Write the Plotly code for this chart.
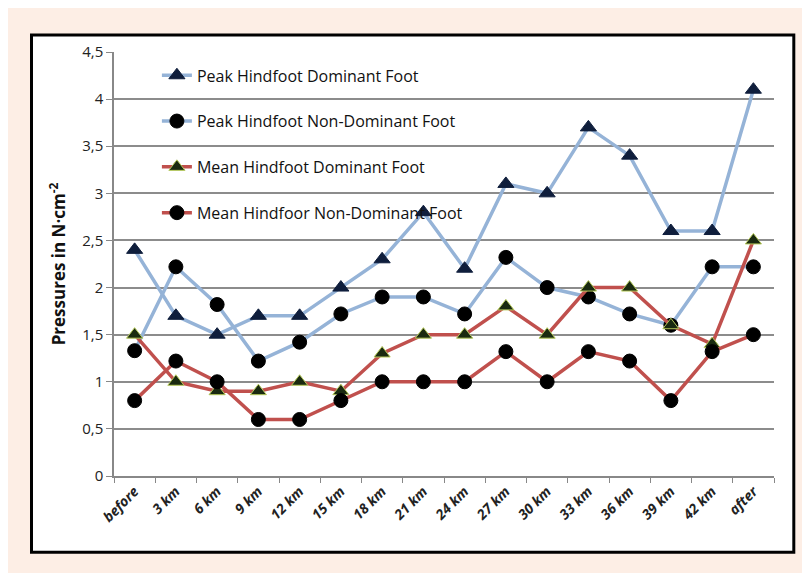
import plotly.graph_objects as go

categories = ['before', '3 km', '6 km', '9 km', '12 km', '15 km', '18 km', '21 km',
              '24 km', '27 km', '30 km', '33 km', '36 km', '39 km', '42 km', 'after']

peak_dominant = [2.4, 1.7, 1.5, 1.7, 1.7, 2.0, 2.3, 2.8, 2.2, 3.1, 3.0, 3.7, 3.4, 2.6, 2.6, 4.1]
peak_non_dominant = [1.33, 2.22, 1.82, 1.22, 1.42, 1.72, 1.9, 1.9, 1.72, 2.32, 2.0, 1.9, 1.72, 1.6, 2.22, 2.22]
mean_dominant = [1.5, 1.0, 0.9, 0.9, 1.0, 0.9, 1.3, 1.5, 1.5, 1.8, 1.5, 2.0, 2.0, 1.6, 1.4, 2.5]
mean_non_dominant = [0.8, 1.22, 1.0, 0.6, 0.6, 0.8, 1.0, 1.0, 1.0, 1.32, 1.0, 1.32, 1.22, 0.8, 1.32, 1.5]

y_ticks = [0, 0.5, 1, 1.5, 2, 2.5, 3, 3.5, 4, 4.5]
y_tick_labels = ['0', '0,5', '1', '1,5', '2', '2,5', '3', '3,5', '4', '4,5']

BLUE = '#95B3D7'
RED = '#C0504D'

fig = go.Figure()

series = [
    ('Peak Hindfoot Dominant Foot', peak_dominant, BLUE, 'triangle-up', '#0F1E3C', '#0F1E3C'),
    ('Peak Hindfoot Non-Dominant Foot', peak_non_dominant, BLUE, 'circle', '#000000', '#000000'),
    ('Mean Hindfoot Dominant Foot', mean_dominant, RED, 'triangle-up', '#1A2A10', '#B5C95A'),
    ('Mean Hindfoor Non-Dominant Foot', mean_non_dominant, RED, 'circle', '#000000', '#000000'),
]

for i, (name, vals, color, symbol, fill, edge) in enumerate(series):
    fig.add_trace(go.Scatter(
        x=categories, y=vals, name=name, mode='lines+markers',
        legendgroup=str(i),
        line=dict(color=color, width=3.5),
        marker=dict(symbol=symbol, size=14, color=fill, line=dict(color=edge, width=1)),
    ))

# white chart box with black frame on the peach page
fig.add_shape(type='rect', xref='paper', yref='paper',
              x0=-0.125, x1=1.030, y0=-0.180, y1=1.040,
              fillcolor='white', line=dict(color='black', width=3), layer='below')

fig.update_layout(
    width=810, height=573,
    margin=dict(l=106, r=44, t=44, b=105),
    paper_bgcolor='#FDEEE5',
    plot_bgcolor='white',
    font=dict(family='Open Sans, sans-serif', color='#222222'),
    showlegend=True,
    legend=dict(x=0.065, y=0.985, xanchor='left', yanchor='top',
                bgcolor='rgba(0,0,0,0)', tracegroupgap=22,
                font=dict(size=16, color='#111111')),
    xaxis=dict(
        type='category', tickangle=-45, tickson='boundaries',
        ticks='outside', ticklen=5, tickcolor='#888888',
        showline=True, linecolor='#888888', linewidth=1.5,
        showgrid=False,
        tickfont=dict(size=14, color='#222222', family='Open Sans, sans-serif', weight='bold', style='italic'),
        range=[-0.5, 15.5],
    ),
    yaxis=dict(
        range=[0, 4.5], tickvals=y_ticks, ticktext=y_tick_labels,
        ticks='outside', ticklen=6, tickcolor='#888888',
        showline=True, linecolor='#888888', linewidth=1.5,
        showgrid=True, gridcolor='#8C8C8C', gridwidth=1.5,
        zeroline=False,
        tickfont=dict(size=15, color='#222222'),
        title=dict(text='<b>Pressures in N·cm<sup>-2</sup></b>', font=dict(size=17, color='#111111'), standoff=12),
    ),
)

fig.write_html('out.html')
